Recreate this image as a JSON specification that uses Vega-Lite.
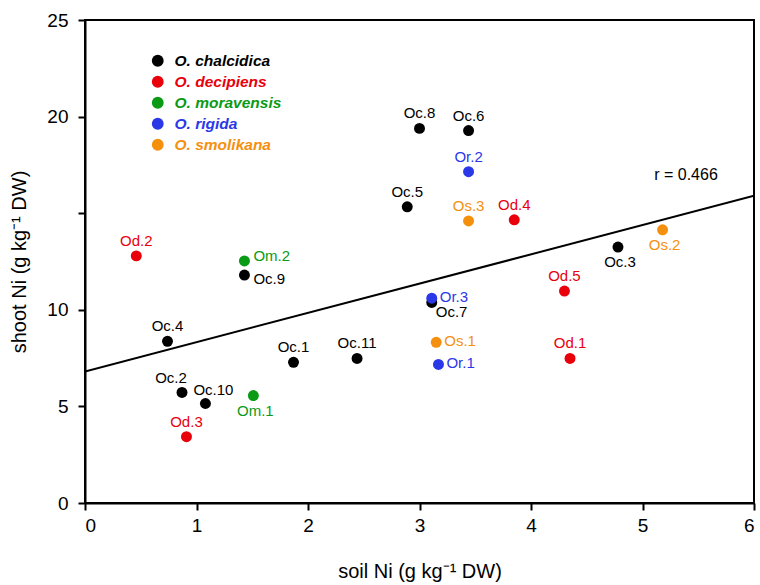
{
  "$schema": "https://vega.github.io/schema/vega-lite/v6.json",
  "autosize": "none",
  "width": 669,
  "height": 483,
  "padding": {"left": 85, "top": 20, "right": 6, "bottom": 82},
  "background": "white",
  "config": {
    "font": "Liberation Sans",
    "view": {"stroke": "black", "strokeWidth": 2},
    "axis": {"grid": false, "domainColor": "black", "domainWidth": 2, "tickColor": "black", "tickWidth": 2, "tickSize": 7, "labelFontSize": 19, "labelColor": "black", "titleFontSize": 20, "titleFontWeight": "normal", "titleColor": "black", "labelFont": "Liberation Sans", "titleFont": "Liberation Sans"}
  },
  "datasets": {
    "pts": [
      {"label": "Oc.1", "species": "O. chalcidica", "soil": 1.87, "shoot": 7.28},
      {"label": "Oc.2", "species": "O. chalcidica", "soil": 0.87, "shoot": 5.72},
      {"label": "Oc.3", "species": "O. chalcidica", "soil": 4.78, "shoot": 13.25},
      {"label": "Oc.4", "species": "O. chalcidica", "soil": 0.74, "shoot": 8.37},
      {"label": "Oc.5", "species": "O. chalcidica", "soil": 2.89, "shoot": 15.33},
      {"label": "Oc.6", "species": "O. chalcidica", "soil": 3.44, "shoot": 19.28},
      {"label": "Oc.7", "species": "O. chalcidica", "soil": 3.11, "shoot": 10.38},
      {"label": "Oc.8", "species": "O. chalcidica", "soil": 3.0, "shoot": 19.39},
      {"label": "Oc.9", "species": "O. chalcidica", "soil": 1.43, "shoot": 11.8},
      {"label": "Oc.10", "species": "O. chalcidica", "soil": 1.08, "shoot": 5.15},
      {"label": "Oc.11", "species": "O. chalcidica", "soil": 2.44, "shoot": 7.48},
      {"label": "Od.1", "species": "O. decipiens", "soil": 4.35, "shoot": 7.48},
      {"label": "Od.2", "species": "O. decipiens", "soil": 0.46, "shoot": 12.79},
      {"label": "Od.3", "species": "O. decipiens", "soil": 0.91, "shoot": 3.43},
      {"label": "Od.4", "species": "O. decipiens", "soil": 3.85, "shoot": 14.66},
      {"label": "Od.5", "species": "O. decipiens", "soil": 4.3, "shoot": 10.97},
      {"label": "Om.1", "species": "O. moravensis", "soil": 1.51, "shoot": 5.56},
      {"label": "Om.2", "species": "O. moravensis", "soil": 1.43, "shoot": 12.53},
      {"label": "Or.1", "species": "O. rigida", "soil": 3.17, "shoot": 7.17},
      {"label": "Or.2", "species": "O. rigida", "soil": 3.44, "shoot": 17.15},
      {"label": "Or.3", "species": "O. rigida", "soil": 3.11, "shoot": 10.6},
      {"label": "Os.1", "species": "O. smolikana", "soil": 3.15, "shoot": 8.32},
      {"label": "Os.2", "species": "O. smolikana", "soil": 5.18, "shoot": 14.14},
      {"label": "Os.3", "species": "O. smolikana", "soil": 3.44, "shoot": 14.6}
    ],
    "fit": [
      {"soil": 0, "shoot": 6.81},
      {"soil": 6, "shoot": 15.9}
    ],
    "note": [
      {"soil": 5.39, "shoot": 17.0, "text": "r = 0.466"}
    ]
  },
  "layer": [
    {
      "data": {"name": "fit"},
      "mark": {"type": "line", "color": "black", "strokeWidth": 2, "clip": true},
      "encoding": {
        "x": {"field": "soil", "type": "quantitative", "scale": {"domain": [0, 6], "nice": false}, "axis": {"values": [0, 1, 2, 3, 4, 5, 6], "format": "d", "title": "soil Ni (g kg⁻¹ DW)", "titlePadding": 26, "labelPadding": 6}},
        "y": {"field": "shoot", "type": "quantitative", "scale": {"domain": [0, 25], "nice": false}, "axis": {"values": [0, 5, 10, 15, 20, 25], "labelExpr": "datum.value == 15 ? '' : datum.label", "title": "shoot Ni (g kg⁻¹ DW)", "titlePadding": 17, "labelPadding": 10}}
      }
    },
    {
      "data": {"name": "pts"},
      "mark": {"type": "circle", "size": 120, "opacity": 1},
      "encoding": {
        "x": {"field": "soil", "type": "quantitative"},
        "y": {"field": "shoot", "type": "quantitative"},
        "order": {"field": "label", "sort": "ascending"},
        "color": {
          "field": "species", "type": "nominal",
          "scale": {"domain": ["O. chalcidica", "O. decipiens", "O. moravensis", "O. rigida", "O. smolikana"], "range": ["#000000", "#e8000b", "#0a9a16", "#2a38e8", "#f5900f"]},
          "legend": {
            "orient": "none", "legendX": 65, "legendY": 33, "title": null,
            "symbolType": "circle", "symbolSize": 140, "symbolStrokeWidth": 0, "symbolOpacity": 1,
            "labelFontSize": 15.5, "labelFontStyle": "italic", "labelFontWeight": "bold", "labelFont": "Liberation Sans",
            "rowPadding": 4, "labelOffset": 9,
            "encode": {"labels": {"update": {"fill": {"scale": "color", "field": "value"}}}, "symbols": {"update": {"fill": {"scale": "color", "field": "value"}, "stroke": {"value": "transparent"}}}}
          }
        }
      }
    },
    {
      "data": {"name": "pts"},
      "transform": [{"filter": {"field": "label", "oneOf": ["Oc.1", "Oc.4", "Oc.5", "Oc.6", "Oc.8", "Oc.11", "Od.1", "Od.2", "Od.3", "Od.4", "Od.5", "Or.2", "Os.3"]}}],
      "mark": {"type": "text", "fontSize": 15, "dy": -15, "align": "center"},
      "encoding": {
        "x": {"field": "soil", "type": "quantitative"},
        "y": {"field": "shoot", "type": "quantitative"},
        "text": {"field": "label"},
        "color": {"field": "species", "type": "nominal", "legend": null}
      }
    },
    {
      "data": {"name": "pts"},
      "transform": [{"filter": {"field": "label", "oneOf": ["Oc.2"]}}],
      "mark": {"type": "text", "fontSize": 15, "dy": -14, "dx": -11, "align": "center"},
      "encoding": {
        "x": {"field": "soil", "type": "quantitative"},
        "y": {"field": "shoot", "type": "quantitative"},
        "text": {"field": "label"},
        "color": {"field": "species", "type": "nominal", "legend": null}
      }
    },
    {
      "data": {"name": "pts"},
      "transform": [{"filter": {"field": "label", "oneOf": ["Oc.10"]}}],
      "mark": {"type": "text", "fontSize": 15, "dy": -14, "dx": 8, "align": "center"},
      "encoding": {
        "x": {"field": "soil", "type": "quantitative"},
        "y": {"field": "shoot", "type": "quantitative"},
        "text": {"field": "label"},
        "color": {"field": "species", "type": "nominal", "legend": null}
      }
    },
    {
      "data": {"name": "pts"},
      "transform": [{"filter": {"field": "label", "oneOf": ["Oc.3", "Om.1", "Os.2"]}}],
      "mark": {"type": "text", "fontSize": 15, "dy": 15, "dx": 2, "align": "center"},
      "encoding": {
        "x": {"field": "soil", "type": "quantitative"},
        "y": {"field": "shoot", "type": "quantitative"},
        "text": {"field": "label"},
        "color": {"field": "species", "type": "nominal", "legend": null}
      }
    },
    {
      "data": {"name": "pts"},
      "transform": [{"filter": {"field": "label", "oneOf": ["Oc.7"]}}],
      "mark": {"type": "text", "fontSize": 15, "dy": 10, "dx": 4, "align": "left"},
      "encoding": {
        "x": {"field": "soil", "type": "quantitative"},
        "y": {"field": "shoot", "type": "quantitative"},
        "text": {"field": "label"},
        "color": {"field": "species", "type": "nominal", "legend": null}
      }
    },
    {
      "data": {"name": "pts"},
      "transform": [{"filter": {"field": "label", "oneOf": ["Or.1", "Or.3", "Os.1"]}}],
      "mark": {"type": "text", "fontSize": 15, "dx": 8, "dy": -1, "align": "left"},
      "encoding": {
        "x": {"field": "soil", "type": "quantitative"},
        "y": {"field": "shoot", "type": "quantitative"},
        "text": {"field": "label"},
        "color": {"field": "species", "type": "nominal", "legend": null}
      }
    },
    {
      "data": {"name": "pts"},
      "transform": [{"filter": {"field": "label", "oneOf": ["Om.2"]}}],
      "mark": {"type": "text", "fontSize": 15, "dx": 9, "dy": -5, "align": "left"},
      "encoding": {
        "x": {"field": "soil", "type": "quantitative"},
        "y": {"field": "shoot", "type": "quantitative"},
        "text": {"field": "label"},
        "color": {"field": "species", "type": "nominal", "legend": null}
      }
    },
    {
      "data": {"name": "pts"},
      "transform": [{"filter": {"field": "label", "oneOf": ["Oc.9"]}}],
      "mark": {"type": "text", "fontSize": 15, "dx": 9, "dy": 4, "align": "left"},
      "encoding": {
        "x": {"field": "soil", "type": "quantitative"},
        "y": {"field": "shoot", "type": "quantitative"},
        "text": {"field": "label"},
        "color": {"field": "species", "type": "nominal", "legend": null}
      }
    },
    {
      "data": {"name": "note"},
      "mark": {"type": "text", "fontSize": 16, "color": "black", "align": "center"},
      "encoding": {
        "x": {"field": "soil", "type": "quantitative"},
        "y": {"field": "shoot", "type": "quantitative"},
        "text": {"field": "text"}
      }
    }
  ]
}
